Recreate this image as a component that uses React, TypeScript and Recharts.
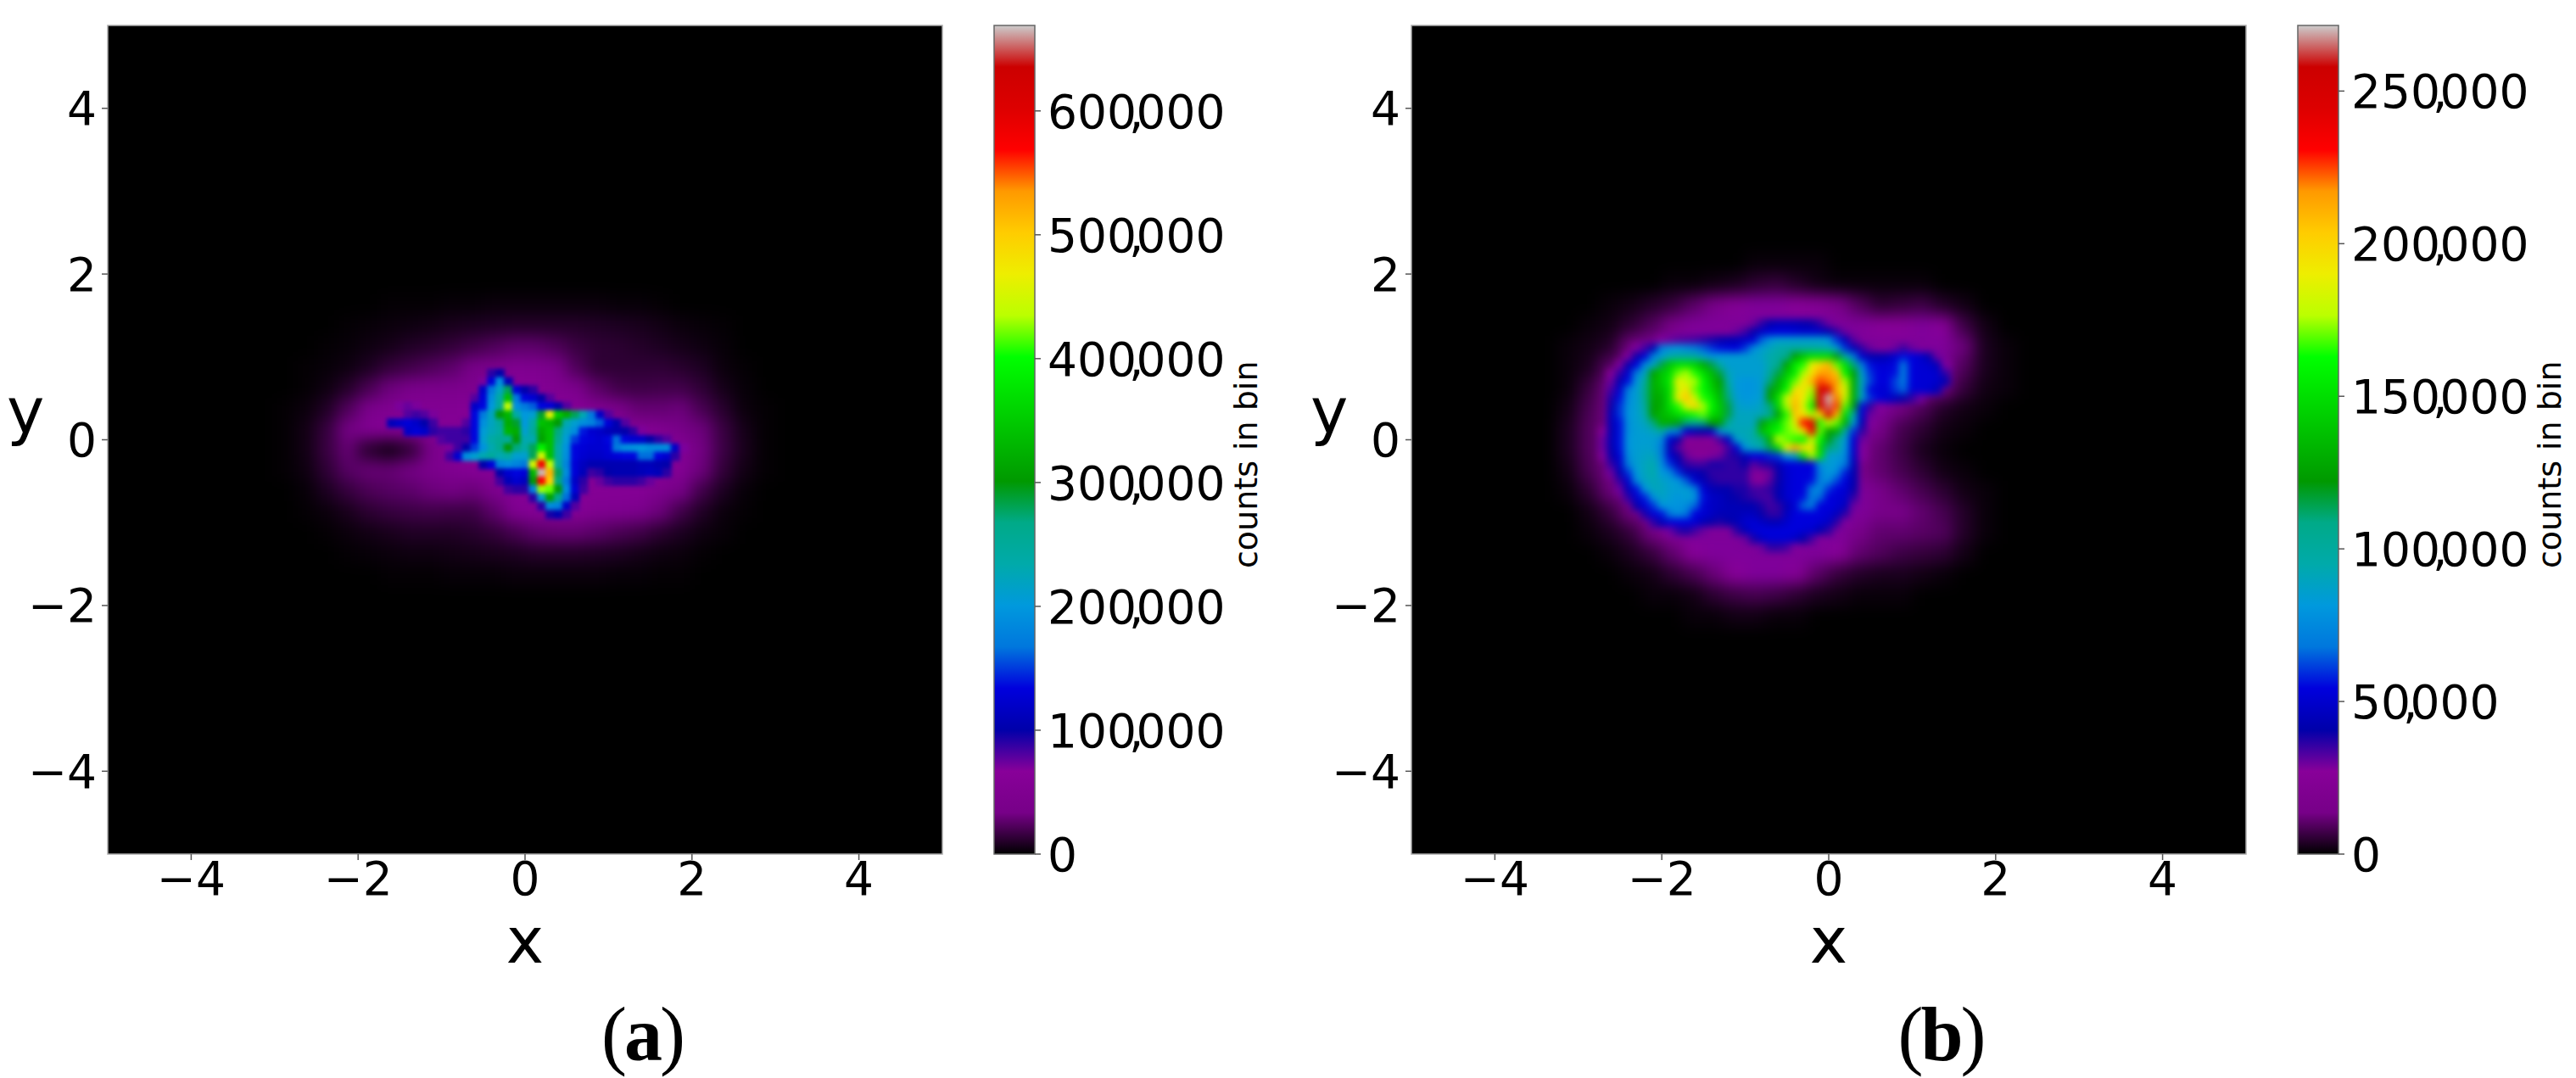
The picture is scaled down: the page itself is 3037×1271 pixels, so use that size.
import { Bar, BarChart, ReferenceArea, Scatter, ScatterChart, XAxis, YAxis } from "recharts";

const axisTicks = [-4, -2, 0, 2, 4];
const colorbarTicksA = [0, 100000, 200000, 300000, 400000, 500000, 600000];
const colorbarTicksB = [0, 50000, 100000, 150000, 200000, 250000];
const maxCountA = 669000;
const maxCountB = 271500;

// nipy_spectral, every 5%
const spectralStops = [
  [0, 0, 0], [119, 0, 136], [136, 0, 153], [0, 0, 170], [0, 0, 221], [0, 119, 221], [0, 153, 221],
  [0, 170, 170], [0, 170, 136], [0, 153, 0], [0, 187, 0], [0, 221, 0], [0, 255, 0], [187, 255, 0],
  [238, 238, 0], [255, 204, 0], [255, 153, 0], [255, 0, 0], [221, 0, 0], [204, 0, 0], [204, 204, 204],
];

// halo: counts in thousands, on a coarse grid
const haloAX = [-2.875, -2.625, -2.375, -2.125, -1.875, -1.625, -1.375, -1.125, -0.875, -0.625, -0.375, -0.125, 0.125, 0.375, 0.625, 0.875, 1.125, 1.375, 1.625, 1.875, 2.125, 2.375, 2.625, 2.875];
const haloAY = [1.625, 1.375, 1.125, 0.875, 0.625, 0.375, 0.125, -0.125, -0.375, -0.625, -0.875, -1.125, -1.375, -1.625];
const haloARows = [
  [0, 0, 0, 0, 0, 1, 1, 1, 2, 2, 3, 3, 3, 3, 3, 3, 2, 2, 1, 0, 0, 0, 0, 0],
  [0, 0, 0, 1, 2, 3, 4, 5, 7, 8, 9, 10, 10, 10, 10, 9, 8, 7, 5, 3, 2, 1, 0, 0],
  [0, 0, 1, 2, 4, 6, 9, 11, 14, 18, 22, 26, 26, 22, 16, 13, 12, 10, 8, 6, 4, 2, 0, 0],
  [0, 1, 2, 4, 8, 14, 18, 22, 26, 34, 42, 50, 48, 38, 22, 13, 13, 13, 13, 11, 8, 3, 1, 0],
  [0, 1, 4, 10, 20, 30, 36, 40, 42, 45, 52, 60, 60, 50, 42, 25, 18, 17, 18, 18, 13, 6, 2, 0],
  [1, 3, 9, 22, 38, 50, 55, 55, 55, 60, 60, 60, 60, 60, 60, 50, 38, 28, 28, 30, 20, 11, 3, 1],
  [1, 5, 15, 32, 52, 60, 60, 55, 60, 60, 60, 60, 60, 60, 60, 60, 60, 60, 50, 34, 30, 16, 6, 1],
  [1, 5, 16, 28, 12, 6, 14, 36, 60, 60, 60, 60, 60, 60, 60, 60, 60, 60, 60, 60, 32, 17, 7, 1],
  [1, 4, 13, 24, 28, 28, 32, 40, 50, 60, 60, 60, 60, 60, 60, 60, 60, 60, 60, 55, 30, 14, 5, 1],
  [0, 2, 8, 15, 21, 24, 26, 30, 32, 30, 44, 60, 60, 60, 60, 60, 60, 60, 46, 33, 18, 8, 2, 0],
  [0, 1, 3, 7, 12, 15, 17, 18, 17, 17, 26, 50, 60, 60, 60, 50, 48, 42, 30, 18, 9, 3, 1, 0],
  [0, 0, 1, 3, 5, 7, 9, 9, 9, 11, 14, 20, 26, 28, 28, 25, 21, 18, 12, 8, 4, 2, 0, 0],
  [0, 0, 0, 1, 2, 3, 4, 4, 5, 6, 7, 8, 10, 10, 10, 9, 8, 6, 4, 3, 1, 0, 0, 0],
  [0, 0, 0, 0, 0, 1, 1, 1, 2, 2, 2, 3, 3, 3, 3, 3, 2, 2, 1, 1, 0, 0, 0, 0],
];

// core: [y, first x, counts in thousands...] on a 0.1 grid
const coreASegments = [
  [0.8, -0.4, 90, 100],
  [0.7, -0.5, 70, 130, 190, 110],
  [0.6, -0.5, 120, 170, 220, 280, 130, 100, 90],
  [0.5, -0.6, 80, 130, 190, 240, 340, 170, 135, 125, 100, 80],
  [0.4, -1.5, 70, 75, 70],
  [0.4, -0.6, 120, 135, 200, 250, 440, 190, 170, 160, 135, 130, 105, 80],
  [0.3, -1.4, 80, 85, 80, 70],
  [0.3, -0.6, 135, 170, 220, 300, 330, 240, 200, 210, 290, 460, 350, 320, 280, 230, 170, 120, 80],
  [0.2, -1.6, 110, 120, 130, 120, 100, 85],
  [0.2, -0.7, 80, 135, 190, 220, 250, 320, 290, 200, 240, 340, 330, 300, 230, 210, 190, 180, 160, 130, 105, 80],
  [0.1, -1.4, 120, 130, 120, 90, 85, 85, 85, 90, 135, 205, 225, 240, 330, 320, 210, 250, 320, 340, 270, 215, 190, 140, 125, 120, 110, 105, 100, 90, 70],
  [0, -1, 80, 85, 85, 85, 135, 210, 240, 255, 250, 300, 230, 230, 310, 340, 260, 205, 150, 135, 130, 125, 135, 165, 135, 125, 120, 100, 90, 80],
  [-0.1, -0.9, 70, 85, 100, 150, 195, 230, 260, 300, 270, 240, 280, 390, 340, 240, 195, 135, 130, 125, 125, 130, 170, 190, 195, 200, 190, 190, 190, 120, 70],
  [-0.2, -0.9, 85, 125, 190, 210, 230, 250, 230, 240, 210, 210, 280, 450, 340, 240, 190, 135, 125, 120, 120, 125, 130, 135, 135, 165, 165, 135, 125, 90],
  [-0.3, -0.5, 100, 130, 180, 190, 180, 170, 450, 580, 440, 250, 180, 130, 115, 105, 105, 105, 105, 105, 105, 110, 110, 105, 100],
  [-0.4, -0.3, 100, 125, 135, 130, 330, 665, 520, 280, 190, 130, 110, 85, 90, 100, 105, 105, 105, 110, 115, 110, 90],
  [-0.5, -0.3, 85, 110, 125, 115, 300, 570, 500, 270, 170, 120, 90],
  [-0.5, 0.9, 75, 85, 90, 90, 90, 85, 75],
  [-0.6, -0.2, 85, 90, 90, 180, 430, 420, 300, 190, 130, 85],
  [-0.7, 0.1, 90, 210, 310, 260, 165, 110],
  [-0.8, 0.2, 90, 190, 180, 120, 80],
  [-0.9, 0.3, 95, 105, 85],
];

const haloBX = [-3.375, -3.125, -2.875, -2.625, -2.375, -2.125, -1.875, -1.625, -1.375, -1.125, -0.875, -0.625, -0.375, -0.125, 0.125, 0.375, 0.625, 0.875, 1.125, 1.375, 1.625, 1.875, 2.125, 2.375, 2.625];
const haloBY = [2.125, 1.875, 1.625, 1.375, 1.125, 0.875, 0.625, 0.375, 0.125, -0.125, -0.375, -0.625, -0.875, -1.125, -1.375, -1.625, -1.875, -2.125];
const haloBRows = [
  [0, 0, 0, 0, 0, 0, 0, 0, 0, 0, 1, 1, 1, 1, 0, 0, 0, 0, 0, 0, 0, 0, 0, 0, 0],
  [0, 0, 0, 0, 0, 0, 1, 1, 2, 3, 5, 6, 4, 2, 1, 1, 1, 1, 1, 0, 0, 0, 0, 0, 0],
  [0, 0, 0, 1, 2, 4, 6, 10, 14, 24, 28, 28, 27, 24, 14, 9, 5, 6, 7, 4, 2, 0, 0, 0, 0],
  [0, 0, 1, 2, 5, 9, 15, 28, 28, 28, 28, 28, 28, 28, 28, 28, 27, 26, 28, 26, 7, 2, 0, 0, 0],
  [0, 1, 2, 4, 13, 28, 28, 28, 28, 28, 28, 28, 28, 28, 28, 28, 28, 28, 28, 28, 12, 3, 1, 0, 0],
  [0, 1, 3, 10, 28, 28, 28, 28, 28, 28, 28, 28, 28, 28, 28, 28, 28, 28, 28, 28, 9, 3, 1, 0, 0],
  [0, 1, 6, 14, 28, 28, 28, 28, 28, 28, 28, 28, 28, 28, 28, 28, 28, 28, 24, 14, 6, 2, 1, 0, 0],
  [0, 2, 8, 14, 28, 28, 28, 28, 28, 28, 28, 28, 28, 28, 28, 28, 28, 13, 9, 4, 2, 1, 0, 0, 0],
  [0, 3, 9, 15, 28, 28, 28, 28, 28, 28, 28, 28, 28, 28, 28, 28, 14, 8, 5, 2, 1, 0, 0, 0, 0],
  [0, 3, 9, 15, 28, 28, 28, 28, 28, 28, 28, 28, 28, 28, 28, 22, 11, 7, 3, 1, 0, 0, 0, 0, 0],
  [0, 2, 8, 14, 28, 28, 28, 28, 28, 28, 28, 28, 28, 28, 28, 16, 11, 8, 5, 2, 1, 0, 0, 0, 0],
  [0, 1, 5, 12, 28, 28, 28, 28, 28, 28, 28, 28, 28, 28, 28, 28, 14, 11, 8, 5, 2, 1, 0, 0, 0],
  [0, 0, 2, 6, 13, 27, 28, 28, 28, 28, 28, 28, 28, 28, 28, 28, 14, 14, 11, 8, 4, 1, 0, 0, 0],
  [0, 0, 1, 3, 6, 13, 27, 28, 28, 28, 28, 28, 28, 28, 28, 14, 11, 11, 10, 9, 4, 1, 0, 0, 0],
  [0, 0, 0, 1, 3, 6, 11, 26, 28, 28, 28, 28, 28, 28, 26, 11, 9, 7, 6, 5, 2, 0, 0, 0, 0],
  [0, 0, 0, 0, 1, 2, 5, 8, 12, 26, 28, 28, 24, 10, 6, 4, 3, 3, 2, 1, 0, 0, 0, 0, 0],
  [0, 0, 0, 0, 0, 1, 1, 2, 5, 7, 8, 7, 5, 3, 2, 1, 1, 1, 0, 0, 0, 0, 0, 0, 0],
  [0, 0, 0, 0, 0, 0, 0, 1, 1, 2, 2, 1, 1, 0, 0, 0, 0, 0, 0, 0, 0, 0, 0, 0, 0],
];

const coreBSegments = [
  [1.4, -0.9, 30, 36, 42, 45, 45, 44, 42, 40, 36, 30],
  [1.3, -1.1, 30, 34, 40, 48, 52, 54, 54, 52, 50, 50, 48, 42, 36, 30],
  [1.2, -2, 28, 30, 32, 33, 34, 36, 38, 40, 42, 44, 48, 52, 65, 78, 85, 85, 85, 85, 85, 85, 80, 60, 44, 32],
  [1.1, -2.3, 28, 34, 42, 70, 78, 80, 75, 70, 65, 60, 56, 55, 54, 60, 75, 85, 90, 95, 98, 100, 100, 100, 98, 95, 85, 60, 44, 36, 30],
  [1.1, 0.8, 30, 35, 30],
  [1, -2.4, 28, 40, 52, 72, 84, 95, 100, 100, 98, 88, 80, 82, 84, 84, 84, 85, 88, 95, 100, 108, 125, 140, 150, 150, 150, 120, 100, 70, 50, 42, 42, 44, 50, 56, 54, 50, 42, 30],
  [0.9, -2.5, 28, 40, 54, 76, 88, 115, 140, 150, 150, 145, 130, 115, 95, 85, 85, 85, 85, 85, 95, 105, 125, 155, 165, 190, 200, 210, 170, 150, 110, 70, 56, 52, 52, 55, 70, 54, 52, 50, 44, 28],
  [0.8, -2.6, 26, 36, 50, 70, 88, 125, 140, 150, 170, 175, 165, 150, 135, 115, 90, 85, 85, 85, 85, 100, 115, 140, 155, 175, 195, 215, 215, 205, 160, 125, 85, 60, 54, 54, 56, 72, 54, 52, 52, 50, 36],
  [0.7, -2.6, 30, 42, 56, 80, 100, 130, 140, 155, 190, 178, 175, 160, 140, 125, 95, 82, 80, 80, 85, 110, 130, 150, 170, 190, 210, 225, 220, 215, 175, 130, 90, 62, 54, 54, 62, 70, 54, 52, 52, 50, 42],
  [0.6, -2.6, 34, 50, 70, 84, 105, 130, 135, 150, 180, 195, 170, 160, 145, 130, 105, 82, 80, 80, 85, 120, 135, 160, 195, 195, 175, 250, 250, 210, 185, 130, 88, 55, 52, 52, 60, 66, 52, 52, 50, 44],
  [0.5, -2.6, 38, 56, 75, 84, 105, 128, 130, 150, 190, 205, 180, 165, 155, 135, 110, 85, 80, 82, 85, 125, 150, 180, 205, 190, 170, 250, 270, 220, 180, 130, 88, 60, 54, 50, 45, 40, 36, 30],
  [0.4, -2.6, 40, 60, 78, 85, 100, 125, 130, 150, 165, 185, 200, 175, 160, 140, 115, 88, 85, 85, 90, 110, 145, 175, 210, 185, 160, 245, 265, 225, 170, 120, 56, 36, 28],
  [0.3, -2.6, 44, 60, 80, 85, 95, 125, 135, 140, 150, 155, 165, 170, 150, 140, 115, 90, 90, 90, 92, 105, 125, 165, 205, 195, 175, 200, 250, 210, 150, 100, 50, 30],
  [0.2, -2.6, 44, 56, 78, 85, 90, 110, 130, 130, 120, 110, 105, 110, 125, 125, 100, 90, 90, 90, 120, 140, 150, 170, 185, 230, 240, 165, 180, 170, 130, 85, 44, 28],
  [0.1, -2.7, 26, 42, 56, 78, 84, 86, 90, 100, 75, 70, 50, 44, 42, 48, 75, 90, 92, 92, 95, 135, 150, 160, 170, 175, 195, 240, 170, 125, 130, 100, 60, 36],
  [0, -2.7, 30, 44, 56, 80, 84, 84, 85, 75, 50, 40, 26, 24, 24, 26, 34, 48, 85, 90, 95, 105, 130, 180, 170, 165, 160, 180, 160, 120, 105, 85, 52, 30],
  [-0.1, -2.7, 30, 42, 56, 80, 84, 86, 85, 70, 44, 32, 22, 22, 22, 22, 26, 34, 50, 80, 90, 95, 115, 150, 190, 215, 195, 195, 145, 110, 100, 80, 50, 28],
  [-0.2, -2.7, 28, 40, 52, 76, 85, 88, 90, 72, 50, 40, 30, 26, 26, 28, 30, 36, 38, 44, 54, 54, 58, 60, 80, 90, 150, 175, 150, 85, 85, 75, 48, 28],
  [-0.3, -2.6, 36, 48, 70, 85, 90, 94, 78, 60, 45, 36, 34, 34, 38, 38, 36, 36, 40, 32, 36, 38, 44, 52, 54, 54, 54, 76, 85, 80, 70, 44],
  [-0.4, -2.6, 30, 42, 60, 82, 90, 95, 82, 75, 60, 44, 44, 40, 36, 36, 36, 36, 36, 28, 28, 30, 40, 50, 54, 54, 54, 70, 82, 75, 58, 42],
  [-0.5, -2.5, 36, 50, 75, 88, 92, 88, 84, 80, 64, 50, 44, 38, 36, 36, 36, 36, 28, 27, 32, 40, 50, 54, 54, 56, 72, 76, 62, 54, 42],
  [-0.6, -2.5, 30, 44, 56, 80, 90, 90, 85, 84, 84, 72, 52, 44, 42, 42, 38, 38, 34, 34, 36, 42, 50, 54, 54, 70, 76, 60, 54, 52, 40],
  [-0.7, -2.4, 36, 50, 58, 78, 88, 84, 80, 84, 80, 56, 48, 46, 42, 40, 38, 36, 34, 34, 42, 50, 54, 56, 72, 66, 54, 52, 50, 36],
  [-0.8, -2.3, 40, 52, 60, 80, 80, 80, 76, 66, 52, 48, 46, 44, 44, 42, 42, 38, 34, 36, 44, 52, 66, 70, 54, 54, 52, 46, 30],
  [-0.9, -2.2, 38, 52, 56, 68, 76, 68, 54, 52, 48, 44, 44, 44, 46, 46, 40, 36, 36, 46, 54, 54, 54, 54, 52, 46, 36],
  [-1, -2.1, 36, 44, 52, 54, 54, 52, 44, 40, 38, 40, 44, 50, 52, 48, 44, 44, 50, 54, 54, 54, 52, 48, 36, 28],
  [-1.1, -1.9, 30, 36, 38, 34, 30, 28, 28, 28, 36, 44, 52, 54, 54, 54, 54, 54, 52, 50, 42, 36],
  [-1.2, -1, 30, 38, 48, 52, 52, 52, 48, 40, 34, 28],
  [-1.3, -0.8, 30, 36, 36, 34, 28],
];

const gridPoints = (xs: number[], ys: number[], rows: number[][]) =>
  rows.flatMap((row, r) => row.map((k, c) => ({ x: xs[c], y: ys[r], count: k * 1000 }))).filter((p) => p.count > 0);

const segmentPoints = (segments: number[][]) =>
  segments.flatMap(([y, x0, ...counts]) =>
    counts.map((k, i) => ({ x: Math.round((x0 + i * 0.1) * 10) / 10, y, count: k * 1000 })),
  );

function spectral(t: number) {
  const pos = Math.min(Math.max(t, 0), 1) * (spectralStops.length - 1);
  const i = Math.min(Math.floor(pos), spectralStops.length - 2);
  const f = pos - i;
  const c = spectralStops[i].map((v, k) => Math.round(v + (spectralStops[i + 1][k] - v) * f));
  return `rgb(${c[0]},${c[1]},${c[2]})`;
}

const PX_X = 98.4;
const PX_Y = 97.7;
const font = "'DejaVu Sans'";

const cellShape = (step: number, max: number) => (p: any) => (
  <rect
    x={p.cx - (step * PX_X) / 2 - 0.5}
    y={p.cy - (step * PX_Y) / 2 - 0.5}
    width={step * PX_X + 1}
    height={step * PX_Y + 1}
    fill={spectral(p.payload.count / max)}
  />
);

const formatAxis = (v: number) => (v < 0 ? `\u2212${-v}` : `${v}`);

// the comma sits tight between the digits, pulled in glyph by glyph
function CountTick({ x, y, payload }: any) {
  const s = payload.value.toLocaleString("en-US");
  const comma = s.indexOf(",");
  const dx = Array.from(s, (_, i) => (comma >= 0 && (i === comma || i === comma + 1) ? -9 : 0)).join(" ");
  return (
    <text x={x} y={y} dy={20} dx={dx} fontSize={55} fontFamily={font} fill="#000">
      {s}
    </text>
  );
}

function HeatPanel({ left, halo, core, max, coreClass }: any) {
  return (
    <div style={{ position: "absolute", left, top: 0 }}>
      <ScatterChart width={1113} height={1271} margin={{ top: 30, right: 2, bottom: 0, left: 0 }}>
        <XAxis
          type="number"
          dataKey="x"
          domain={[-5, 5]}
          ticks={axisTicks}
          tickFormatter={formatAxis}
          height={264}
          axisLine={false}
          tickSize={7}
          tickMargin={2}
          tickLine={{ stroke: "#555", strokeWidth: 1.5 }}
          tick={{ fontSize: 55, fontFamily: font, fill: "#000" }}
          label={{ value: "x", position: "insideTop", offset: 75, fontSize: 75, fontFamily: font, fill: "#000" }}
        />
        <YAxis
          type="number"
          dataKey="y"
          domain={[-5, 5]}
          ticks={axisTicks}
          tickFormatter={formatAxis}
          width={127}
          axisLine={false}
          tickSize={7}
          tickMargin={6}
          tickLine={{ stroke: "#555", strokeWidth: 1.5 }}
          tick={{ fontSize: 55, fontFamily: font, fill: "#000" }}
          label={{ value: "y", position: "insideLeft", offset: 8, dy: -35, fontSize: 75, fontFamily: font, fill: "#000" }}
        />
        <ReferenceArea x1={-5} x2={5} y1={-5} y2={5} fill="#000" fillOpacity={1} stroke="#aaa" strokeWidth={1.5} />
        <Scatter data={halo} className="halo" shape={cellShape(0.25, max)} isAnimationActive={false} />
        <Scatter data={core} className={coreClass} shape={cellShape(0.1, max)} isAnimationActive={false} />
      </ScatterChart>
    </div>
  );
}

function Colorbar({ left, id, ticks, max }: any) {
  return (
    <div style={{ position: "absolute", left, top: 0 }}>
      <BarChart width={329} height={1271} data={[{ name: "counts", count: max }]} barCategoryGap={0} margin={{ top: 30, right: 0, bottom: 264, left: 1 }}>
        <defs>
          <linearGradient id={id} x1="0" y1="1" x2="0" y2="0">
            {spectralStops.map((c, i) => (
              <stop key={i} offset={i / (spectralStops.length - 1)} stopColor={`rgb(${c[0]},${c[1]},${c[2]})`} />
            ))}
          </linearGradient>
        </defs>
        <XAxis dataKey="name" hide />
        <YAxis
          orientation="right"
          type="number"
          domain={[0, max]}
          ticks={ticks}
          width={280}
          axisLine={false}
          tickSize={7}
          tickMargin={8}
          tickLine={{ stroke: "#555", strokeWidth: 1.5 }}
          tick={<CountTick />}
          label={{ value: "counts in bin", angle: -90, position: "insideRight", offset: 31, dy: -93, fontSize: 38, fontFamily: font, fill: "#000" }}
        />
        <Bar dataKey="count" fill={`url(#${id})`} stroke="#666" strokeWidth={1.5} isAnimationActive={false} />
      </BarChart>
    </div>
  );
}

function Caption({ center, letter }: { center: number; letter: string }) {
  return (
    <div
      style={{
        position: "absolute",
        left: center - 100,
        width: 200,
        top: 1170,
        textAlign: "center",
        fontFamily: "'Liberation Serif'",
        fontSize: 90,
        letterSpacing: -3,
        lineHeight: "100px",
      }}
    >
      (<b>{letter}</b>)
    </div>
  );
}

export default function App() {
  return (
    <div style={{ position: "absolute", left: 0, top: 0, width: 3037, height: 1271, background: "#fff", overflow: "hidden" }}>
      <style>{`.halo{filter:blur(9px)} .coreA{filter:blur(2.5px)} .coreB{filter:blur(4px)}`}</style>
      <HeatPanel left={0} halo={gridPoints(haloAX, haloAY, haloARows)} core={segmentPoints(coreASegments)} max={maxCountA} coreClass="coreA" />
      <Colorbar left={1171} id="cbA" ticks={colorbarTicksA} max={maxCountA} />
      <HeatPanel left={1537} halo={gridPoints(haloBX, haloBY, haloBRows)} core={segmentPoints(coreBSegments)} max={maxCountB} coreClass="coreB" />
      <Colorbar left={2708} id="cbB" ticks={colorbarTicksB} max={maxCountB} />
      <Caption center={757} letter="a" />
      <Caption center={2288} letter="b" />
    </div>
  );
}
